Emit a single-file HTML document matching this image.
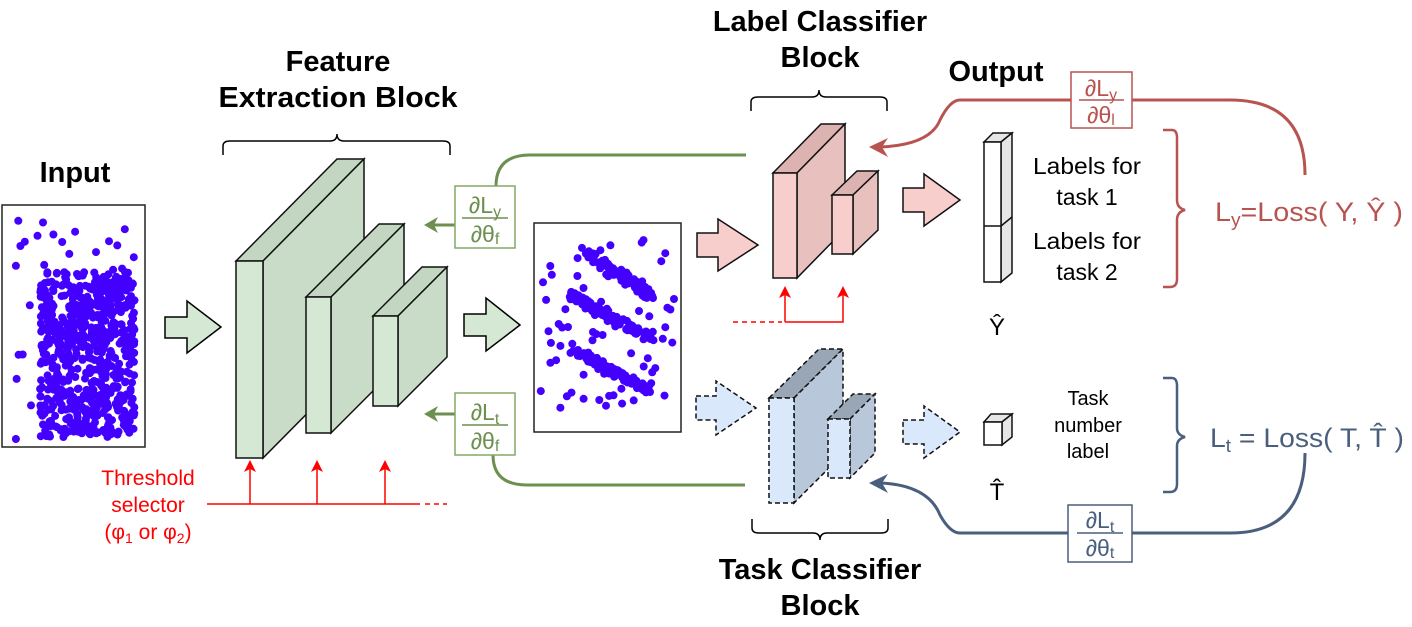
<!DOCTYPE html>
<html><head><meta charset="utf-8"><style>
html,body{margin:0;padding:0;background:#fff}
svg{display:block}
text{font-family:"Liberation Sans",sans-serif}
</style></head><body>
<svg id="s" width="1412" height="627" viewBox="0 0 1412 627" xmlns="http://www.w3.org/2000/svg">
<defs>
<marker id="ar" markerWidth="12" markerHeight="12" refX="6" refY="6" orient="auto" markerUnits="userSpaceOnUse"><path d="M0,0 L12,6 L0,12 L3,6z" fill="#ff0000"/></marker>
</defs>
<!-- titles -->
<g font-weight="bold" font-size="29" text-anchor="middle" fill="#000">
<text x="338" y="71">Feature</text>
<text x="338" y="107" textLength="239" lengthAdjust="spacingAndGlyphs">Extraction Block</text>
<text x="75" y="182">Input</text>
<text x="820" y="31">Label Classifier</text>
<text x="820" y="67">Block</text>
<text x="996" y="81">Output</text>
<text x="820" y="579">Task Classifier</text>
<text x="820" y="615">Block</text>
</g>
<!-- braces -->
<g fill="none" stroke="#000" stroke-width="1.5">
<path d="M223,155 V146 Q223,141 230,141 H330 Q337,141 337,134 Q337,141 344,141 H443 Q450,141 450,146 V155"/>
<path d="M751,111 V102 Q751,97 758,97 H812 Q819,97 819,90 Q819,97 826,97 H880 Q887,97 887,102 V111"/>
<path d="M752,519 V528 Q752,533 759,533 H813 Q820,533 820,540 Q820,533 827,533 H881 Q888,533 888,528 V519"/>
</g>
<!-- input box -->
<rect x="2" y="205" width="143" height="242" fill="#fff" stroke="#222" stroke-width="1.5"/>
<rect x="534" y="223" width="147" height="209" fill="#fff" stroke="#222" stroke-width="1.5"/>
<g id="dots" fill="#4400ff"></g>
<!-- green arrows -->
<g fill="#d5e8d4" stroke="#000" stroke-width="1.5">
<path d="M165,317 H187 V301 L221,327 L187,353 V338 H165z"/>
<path d="M464,314 H486 V298 L520,325 L486,351 V336 H464z"/>
</g>
<!-- feature blocks -->
<g stroke="#111" stroke-width="1.5">
<path d="M236,261 L337,159 H364 L263,261z" fill="#c2d6c1"/>
<path d="M263,261 L364,159 V356 L263,458z" fill="#c9dcc8"/>
<rect x="236" y="261" width="27" height="197" fill="#d5e8d4"/>
<path d="M306,297 L379,224 H404 L331,297z" fill="#c2d6c1"/>
<path d="M331,297 L404,224 V360 L331,433z" fill="#c9dcc8"/>
<rect x="306" y="297" width="25" height="136" fill="#d5e8d4"/>
<path d="M373,316 L422,267 H447 L398,316z" fill="#c2d6c1"/>
<path d="M398,316 L447,267 V357 L398,406z" fill="#c9dcc8"/>
<rect x="373" y="316" width="25" height="90" fill="#d5e8d4"/>
</g>
<!-- green gradient -->
<g stroke="#6d8f4f" stroke-width="3" fill="none">
<path d="M496,186 Q496,155 530,155 H746"/>
<path d="M493,455 Q493,485 527,485 H745"/>
<path d="M455,225 H430"/><path d="M455,414 H430"/>
</g>
<path d="M424,225 L438,217 L434,225 L438,233z" fill="#6d8f4f"/>
<path d="M424,414 L438,406 L434,414 L438,422z" fill="#6d8f4f"/>
<g fill="#fff" stroke="#82a865" stroke-width="1.5"><rect x="455" y="186" width="60" height="62"/><rect x="455" y="393" width="60" height="62"/></g>
<g fill="#6d8f4f" font-size="23" text-anchor="middle">
<text x="485" y="213">∂L<tspan font-size="16" dy="4">y</tspan></text>
<line x1="462" y1="218" x2="508" y2="218" stroke="#6d8f4f" stroke-width="1.5"/>
<text x="485" y="242">∂θ<tspan font-size="16" dy="2">f</tspan></text>
<text x="485" y="420">∂L<tspan font-size="16" dy="4">t</tspan></text>
<line x1="462" y1="425" x2="508" y2="425" stroke="#6d8f4f" stroke-width="1.5"/>
<text x="485" y="449">∂θ<tspan font-size="16" dy="2">f</tspan></text>
</g>
<!-- threshold -->
<g stroke="#ff0000" stroke-width="1.5" fill="none">
<path d="M207,504 H420"/><path d="M425,504 H447" stroke-dasharray="5,4"/>
<path d="M250,504 V466" marker-end="url(#ar)"/><path d="M317,504 V466" marker-end="url(#ar)"/><path d="M385,504 V466" marker-end="url(#ar)"/>
<path d="M785,322 H843 V292" marker-end="url(#ar)"/><path d="M785,322 V292" marker-end="url(#ar)"/>
<path d="M733,322 H782" stroke-dasharray="5,4"/>
</g>
<g fill="#ff0000" font-size="21" text-anchor="middle">
<text x="148" y="485">Threshold</text><text x="148" y="512">selector</text>
<text x="148" y="539">(φ<tspan font-size="14" dy="4">1</tspan><tspan dy="-4"> or φ</tspan><tspan font-size="14" dy="4">2</tspan><tspan dy="-4">)</tspan></text>
</g>
<!-- pink -->
<g stroke="#111" stroke-width="1.5">
<path d="M697,233 H718 V219 L758,245 L718,271 V257 H697z" fill="#f8cecc"/>
<path d="M903,188 H924 V174 L960,200 L924,226 V212 H903z" fill="#f8cecc"/>
<path d="M773,173 L821,124 H845 L797,173z" fill="#ddb3b1"/>
<path d="M797,173 L845,124 V229 L797,278z" fill="#e8c0be"/>
<rect x="773" y="173" width="24" height="105" fill="#f8cecc"/>
<path d="M832,195 L857,171 H878 L853,195z" fill="#ddb3b1"/>
<path d="M853,195 L878,171 V230 L853,254z" fill="#e8c0be"/>
<rect x="832" y="195" width="21" height="59" fill="#f8cecc"/>
</g>
<!-- blue dashed -->
<g stroke="#111" stroke-width="1.5" stroke-dasharray="5,3">
<path d="M696,396 H716 V381 L756,408 L716,435 V420 H696z" fill="#dae8fc"/>
<path d="M903,420 H924 V406 L960,432 L924,458 V444 H903z" fill="#dae8fc"/>
<path d="M769,398 L819,349 H843 L794,398z" fill="#99a6b6"/>
<path d="M794,398 L843,349 V454 L794,503z" fill="#b9c7da"/>
<rect x="769" y="398" width="25" height="105" fill="#dae8fc"/>
<path d="M828,419 L853,394 H875 L850,419z" fill="#99a6b6"/>
<path d="M850,419 L875,394 V453 L850,478z" fill="#b9c7da"/>
<rect x="828" y="419" width="22" height="59" fill="#dae8fc"/>
</g>
<!-- output columns -->
<g stroke="#111" stroke-width="1.5">
<path d="M984,142 L993,133 H1012 L1001,142z" fill="#e6e6e6"/>
<path d="M1001,142 L1012,133 V273 L1001,282z" fill="#e6e6e6"/>
<rect x="984" y="142" width="17" height="140" fill="#fff"/>
<line x1="984" y1="226" x2="1001" y2="226"/><line x1="1001" y1="226" x2="1012" y2="217"/>
<path d="M984,422 L991,414 H1012 L1002,422z" fill="#e6e6e6"/>
<path d="M1002,422 L1012,414 V437 L1002,445z" fill="#e6e6e6"/>
<rect x="984" y="422" width="18" height="23" fill="#fff"/>
</g>
<g font-size="23" text-anchor="middle" fill="#000">
<text x="1087" y="174" textLength="108" lengthAdjust="spacingAndGlyphs">Labels for</text><text x="1087" y="205">task 1</text>
<text x="1087" y="249" textLength="108" lengthAdjust="spacingAndGlyphs">Labels for</text><text x="1087" y="280">task 2</text>
<text x="997" y="335" font-size="24">Ŷ</text>
<text x="997" y="500" font-size="24">T̂</text>
</g>
<g font-size="20" text-anchor="middle" fill="#000">
<text x="1088" y="405">Task</text><text x="1088" y="432">number</text><text x="1088" y="458">label</text>
</g>
<!-- red loss -->
<g fill="none" stroke="#b85450" stroke-width="3">
<path d="M1163,130 H1172 Q1177,130 1177,138 V200 Q1177,208 1185,210 Q1177,212 1177,220 V279 Q1177,287 1170,287 H1163" stroke-width="2.5"/>
<path d="M1305,175 Q1305,100 1230,100 H960 Q950,100 940,120 Q930,145 880,147"/>
</g>
<path d="M869,147 L888,138 L882,147 L888,157z" fill="#b85450"/>
<rect x="1071" y="72" width="61" height="56" fill="#fff" stroke="#b85450" stroke-width="1.5"/>
<g fill="#b85450" font-size="23" text-anchor="middle">
<text x="1101" y="96">∂L<tspan font-size="16" dy="4">y</tspan></text>
<line x1="1079" y1="100" x2="1124" y2="100" stroke="#b85450" stroke-width="1.5"/>
<text x="1101" y="123">∂θ<tspan font-size="16" dy="2">l</tspan></text>
</g>
<text x="1215" y="221" font-size="27" fill="#b85450" textLength="188" lengthAdjust="spacingAndGlyphs">L<tspan font-size="18" dy="5">y</tspan><tspan dy="-5">=Loss( Y, Ŷ )</tspan></text>
<!-- blue loss -->
<g fill="none" stroke="#4a5f7e" stroke-width="3">
<path d="M1163,378 H1172 Q1177,378 1177,386 V428 Q1177,435 1185,437 Q1177,439 1177,446 V484 Q1177,492 1170,492 H1163" stroke-width="2.5"/>
<path d="M1305,453 Q1305,533 1230,533 H960 Q950,533 940,515 Q928,485 880,483"/>
</g>
<path d="M869,483 L888,474 L882,483 L888,493z" fill="#4a5f7e"/>
<rect x="1068" y="505" width="64" height="57" fill="#fff" stroke="#4a5f7e" stroke-width="1.5"/>
<g fill="#4a5f7e" font-size="23" text-anchor="middle">
<text x="1100" y="528">∂L<tspan font-size="16" dy="4">t</tspan></text>
<line x1="1077" y1="533" x2="1123" y2="533" stroke="#4a5f7e" stroke-width="1.5"/>
<text x="1100" y="556">∂θ<tspan font-size="16" dy="2">t</tspan></text>
</g>
<text x="1210" y="447" font-size="27" fill="#4a5f7e" textLength="194" lengthAdjust="spacingAndGlyphs">L<tspan font-size="18" dy="5">t</tspan><tspan dy="-5"> = Loss( T, T̂ )</tspan></text>
</svg>
<script>
(function(){
var g=document.getElementById('dots'),s=1234567;
function r(){s=(s*16807)%2147483647;return s/2147483647;}
function n(){return (r()+r()+r()-1.5)/1.5;}
var h='';
function d(x,y){h+='<circle cx="'+x.toFixed(1)+'" cy="'+y.toFixed(1)+'" r="4"/>';}
for(var i=0;i<650;i++){var x=40+r()*95,y=272+r()*165;d(x,y);}
for(var i=0;i<55;i++){d(5+r()*138,215+r()*225);}
var bands=[[585,250,650,295],[570,295,655,340],[575,352,650,390]];
bands.forEach(function(b){for(var i=0;i<130;i++){var t=r();d(b[0]+(b[2]-b[0])*t+n()*7,b[1]+(b[3]-b[1])*t+n()*7);}});
for(var i=0;i<70;i++){d(540+r()*135,240+r()*170);}
g.innerHTML=h;
})();
</script>
</body></html>
